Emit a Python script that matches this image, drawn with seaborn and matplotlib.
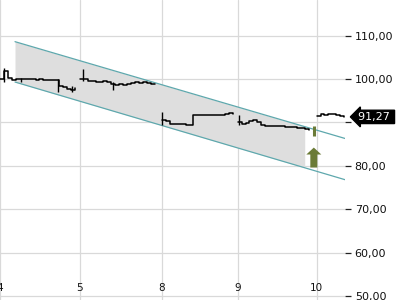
import numpy as np
import pandas as pd
import matplotlib
matplotlib.use("Agg")
import matplotlib.pyplot as plt
import seaborn as sns

# ---- data ----
day_labels = ["4", "5", "8", "9", "10"]
day_starts = [0.0, 1.01, 2.05, 3.01, 4.01]
sample_step = 0.05  # fraction of a trading day between samples

day4 = [100.0, 101.8, 100.3, 99.8, 100.0, 99.9, 99.9, 100.0, 99.9, 99.8,
        99.9, 99.8, 99.8, 99.8, 99.7, 98.3, 98.1, 97.7, 97.4, 98.0]
day5 = [99.9, 100.0, 99.6, 99.5, 99.3, 99.2, 99.5, 99.3, 98.9, 98.7,
        98.8, 98.7, 98.9, 99.0, 99.2, 99.1, 99.2, 99.1, 98.9, 98.8]
day8 = [90.5, 90.4, 89.7, 89.6, 89.6, 89.6, 89.4, 89.5, 91.6, 91.8,
        91.6, 91.7, 91.7, 91.6, 91.7, 91.8, 92.0, 92.1, 92.0]
day9 = [90.0, 89.6, 89.9, 90.3, 90.5, 90.2, 89.4, 89.2, 89.1, 89.2,
        89.1, 89.1, 89.0, 89.0, 88.9, 88.8, 88.6, 88.4, 88.3]
day10 = [91.5, 91.9, 91.8, 92.0, 91.9, 91.6, 91.4, 91.27]
days = [day4, day5, day8, day9, day10]

wick_x = [0.05, 0.27, 0.73, 0.91, 1.05, 1.43, 2.05, 3.03]
wick_low = [99.4, 99.2, 97.0, 97.0, 99.6, 97.4, 89.5, 89.3]
wick_high = [102.6, 100.2, 99.9, 98.3, 102.3, 99.3, 92.5, 91.6]

signal_x = 3.975
signal_low, signal_high = 86.8, 89.1
arrow_base, arrow_tip = 79.6, 84.2

channel_x = [0.19, 4.37]
channel_upper = [108.6, 86.3]
channel_lower = [99.3, 76.8]
channel_fill_end = 3.86

y_ticks = [50, 60, 70, 80, 90, 100, 110]
last_price = day10[-1]

# ---- build frame ----
rows = []
for lbl, start, vals in zip(day_labels, day_starts, days):
    for k, v in enumerate(vals):
        rows.append({"day": lbl, "t": start + k * sample_step, "price": v})
df = pd.DataFrame(rows)

# ---- style ----
sns.set_style("white")
plt.rcParams["font.family"] = ["DejaVu Sans"]
grid_c = "#d9d9d9"
teal = "#5ea8ad"
olive = "#6b7b37"

fig = plt.figure(figsize=(4, 3), dpi=100)
ax = fig.add_axes([0, 0, 345 / 400, 1])
ax.set_xlim(0, 4.37)
ax.set_ylim(49.08, 118.2)

# channel
fx = np.linspace(channel_x[0], channel_fill_end, 50)
ax.fill_between(fx, np.interp(fx, channel_x, channel_lower),
                np.interp(fx, channel_x, channel_upper),
                color="#dedede", lw=0, zorder=1)
ax.plot(channel_x, channel_upper, color=teal, lw=0.9, zorder=2)
ax.plot(channel_x, channel_lower, color=teal, lw=0.9, zorder=2)

# price
sns.lineplot(data=df, x="t", y="price", units="day", estimator=None,
             color="black", lw=1.1, drawstyle="steps-post", ax=ax, zorder=3)
ax.vlines(wick_x, wick_low, wick_high, color="black", lw=1.0, zorder=3)

# signal
ax.vlines([signal_x], [signal_low], [signal_high], color=olive, lw=2.2, zorder=4)
ax.arrow(signal_x, arrow_base, 0, arrow_tip - arrow_base, width=7 / 79,
         head_width=15 / 79, head_length=1.6, length_includes_head=True,
         fc=olive, ec="none", zorder=4)

# axes styling
for s in ax.spines.values():
    s.set_visible(False)
ax.set_xticks(day_starts)
ax.set_xticklabels(day_labels)
ax.set_yticks(y_ticks)
# the 90,00 label sits hidden behind the last-price marker in the reference
ax.set_yticklabels(["" if v == 90 else f"{v:.2f}".replace(".", ",") for v in y_ticks])
ax.yaxis.tick_right()
ax.grid(True, color=grid_c, lw=0.9)
ax.set_axisbelow(True)
ax.tick_params(axis="y", direction="out", length=4, width=0.9, color="#222222",
               labelsize=8, labelcolor="#111111", pad=3)
ax.tick_params(axis="x", direction="in", length=3, width=0.9, color="#222222",
               labelsize=7.5, labelcolor="#111111", pad=-12)
ax.set_xlabel("")
ax.set_ylabel("")

ax.annotate(f"{last_price:.2f}".replace(".", ",") + " ", xy=(1, last_price),
            xycoords=("axes fraction", "data"), xytext=(9, 0),
            textcoords="offset points", va="center", ha="left", color="white",
            fontsize=8, annotation_clip=False, zorder=10,
            bbox=dict(boxstyle="larrow,pad=0.15", fc="black", ec="black"))

fig.savefig("out.png", dpi=100)
